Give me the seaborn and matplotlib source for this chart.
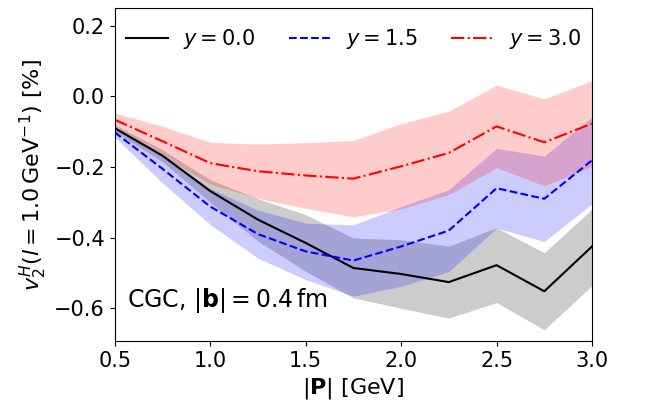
import numpy as np
import pandas as pd
import matplotlib
matplotlib.use("Agg")
import matplotlib.pyplot as plt
import seaborn as sns

# |P| grid in GeV
P = [0.5, 0.75, 1.0, 1.25, 1.5, 1.75, 2.0, 2.25, 2.5, 2.75, 3.0]

# y = 0.0
v_y00 = [-0.090, -0.168, -0.268, -0.349, -0.415, -0.486, -0.503, -0.526, -0.478, -0.552, -0.425]
lo_y00 = [-0.100, -0.185, -0.300, -0.410, -0.495, -0.571, -0.600, -0.628, -0.584, -0.661, -0.536]
hi_y00 = [-0.080, -0.151, -0.236, -0.290, -0.335, -0.401, -0.406, -0.424, -0.372, -0.443, -0.319]

# y = 1.5
v_y15 = [-0.102, -0.205, -0.312, -0.390, -0.439, -0.465, -0.425, -0.380, -0.260, -0.290, -0.181]
lo_y15 = [-0.115, -0.245, -0.363, -0.458, -0.519, -0.566, -0.538, -0.496, -0.373, -0.411, -0.304]
hi_y15 = [-0.090, -0.165, -0.261, -0.322, -0.359, -0.364, -0.312, -0.264, -0.147, -0.169, -0.058]

# y = 3.0
v_y30 = [-0.066, -0.127, -0.189, -0.212, -0.224, -0.233, -0.198, -0.160, -0.085, -0.130, -0.077]
lo_y30 = [-0.086, -0.169, -0.248, -0.289, -0.317, -0.341, -0.319, -0.278, -0.202, -0.253, -0.199]
hi_y30 = [-0.047, -0.085, -0.130, -0.135, -0.131, -0.125, -0.077, -0.042, 0.032, -0.007, 0.045]

series = [
    ("$y = 0.0$", v_y00, lo_y00, hi_y00, "black", "-"),
    ("$y = 1.5$", v_y15, lo_y15, hi_y15, "blue", "--"),
    ("$y = 3.0$", v_y30, lo_y30, hi_y30, "red", "-."),
]

fig = plt.figure(figsize=(6.52, 4.07), dpi=100)
ax = fig.add_axes([0.176, 0.162, 0.732, 0.818])

# bands first, lines on top
for label, v, lo, hi, color, ls in series:
    ax.fill_between(P, lo, hi, color=color, alpha=0.2, linewidth=0)
for label, v, lo, hi, color, ls in series:
    df = pd.DataFrame({"P": P, "v": v})
    sns.lineplot(data=df, x="P", y="v", ax=ax, color=color, linestyle=ls,
                 linewidth=1.5, label=label)

ax.set_xlim(0.5, 3.0)
ax.set_ylim(-0.693, 0.25)
ax.set_xticks([0.5, 1.0, 1.5, 2.0, 2.5, 3.0])
ax.set_yticks([-0.6, -0.4, -0.2, 0.0, 0.2])
ax.tick_params(labelsize=15)
ax.set_xlabel(r"$|\mathbf{P}|$ [GeV]", fontsize=16)
ax.set_ylabel(r"$v_2^H(l = 1.0\,\mathrm{GeV}^{-1})$ [%]", fontsize=16)

ax.legend(loc="upper center", ncol=3, frameon=False, fontsize=15,
          handlelength=2.0, handletextpad=0.75, columnspacing=1.6,
          borderaxespad=0.5)
ax.text(0.025, 0.123, r"CGC, $|\mathbf{b}| = 0.4\,\mathrm{fm}$", transform=ax.transAxes,
        fontsize=17, va="center")

fig.savefig("out.png", dpi=100)
